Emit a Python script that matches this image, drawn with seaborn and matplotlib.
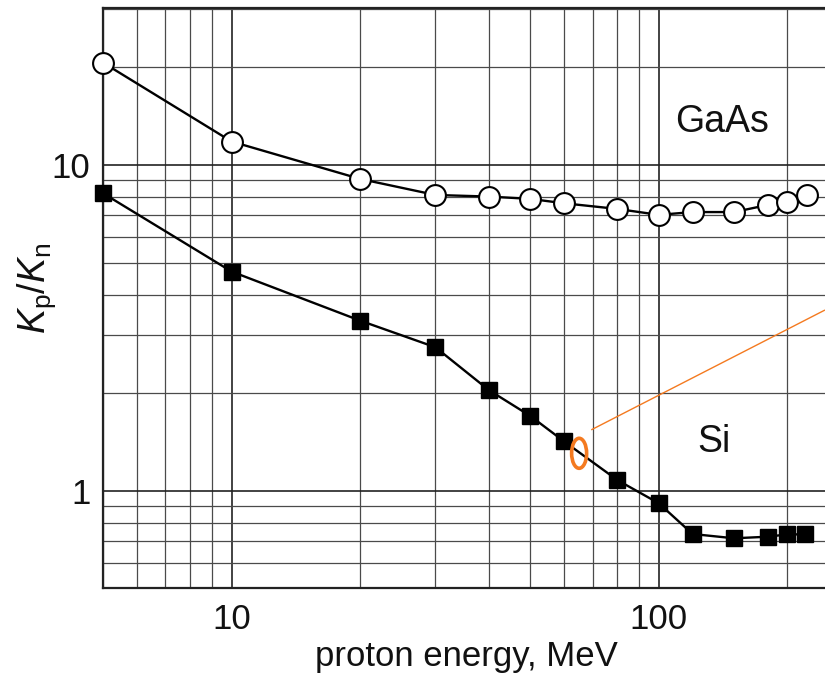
import matplotlib
matplotlib.use("Agg")
import matplotlib.pyplot as plt
import matplotlib.transforms as mtransforms
from matplotlib.patches import Ellipse
from matplotlib.ticker import LogLocator, FixedLocator, NullFormatter
import seaborn as sns
import pandas as pd

# ---- data ----
gaas_energy = [5, 10, 20, 30, 40, 50, 60, 80, 100, 120, 150, 180, 200, 222]
gaas_ratio = [20.6, 11.8, 9.06, 8.09, 8.0, 7.87, 7.63, 7.33, 7.03, 7.17, 7.17, 7.54, 7.72, 8.09]

si_energy = [5, 10, 20, 30, 40, 50, 60, 80, 100, 120, 150, 180, 200, 220]
si_ratio = [8.19, 4.71, 3.33, 2.76, 2.04, 1.70, 1.42, 1.08, 0.917, 0.738, 0.716, 0.724, 0.736, 0.736]

x_ticks = [10, 100]
x_tick_labels = ["10", "100"]
y_ticks = [1, 10]
y_tick_labels = ["1", "10"]

# annotation (orange ellipse + pointer line)
ell_center = (65.1, 1.305)
pointer_x = [69.5, 245]
pointer_y = [1.54, 3.59]

sns.set_theme(style="white")
plt.rcParams["font.family"] = ["Liberation Sans", "DejaVu Sans"]
plt.rcParams["mathtext.fontset"] = "custom"
plt.rcParams["mathtext.rm"] = "Liberation Sans"
plt.rcParams["mathtext.it"] = "Liberation Sans:italic"

fig = plt.figure(figsize=(8.25, 6.79), dpi=100)
ax = fig.add_axes([103 / 825, 1 - 588 / 679, 1 - 103 / 825, (588 - 8) / 679])

ax.set_xscale("log")
ax.set_yscale("log")
ax.set_xlim(5, 245)
ax.set_ylim(0.504, 30.3)

# grid
ax.xaxis.set_major_locator(FixedLocator(x_ticks))
ax.yaxis.set_major_locator(FixedLocator(y_ticks))
ax.xaxis.set_minor_locator(LogLocator(base=10, subs=range(2, 10)))
ax.yaxis.set_minor_locator(LogLocator(base=10, subs=range(2, 10)))
ax.xaxis.set_minor_formatter(NullFormatter())
ax.yaxis.set_minor_formatter(NullFormatter())
ax.grid(True, which="major", color="#222222", linewidth=1.2)
ax.grid(True, which="minor", color="#4a4a4a", linewidth=0.9)
ax.set_axisbelow(True)

gaas_df = pd.DataFrame({"energy": gaas_energy, "ratio": gaas_ratio})
si_df = pd.DataFrame({"energy": si_energy, "ratio": si_ratio})

sns.lineplot(data=gaas_df, x="energy", y="ratio", ax=ax, color="black",
             linewidth=1.7, marker="o", markersize=15,
             markerfacecolor="white", markeredgecolor="black",
             markeredgewidth=1.5, zorder=3, clip_on=False)
sns.lineplot(data=si_df, x="energy", y="ratio", ax=ax, color="black",
             linewidth=1.7, marker="s", markersize=11,
             markerfacecolor="black", markeredgecolor="black",
             markeredgewidth=1.0, zorder=3, clip_on=False)

ax.set_xticks(x_ticks)
ax.set_xticklabels(x_tick_labels)
ax.set_yticks(y_ticks)
ax.set_yticklabels(y_tick_labels)
ax.tick_params(axis="both", which="both", length=0, labelsize=25, colors="#111111")
ax.tick_params(axis="x", pad=11)
ax.tick_params(axis="y", pad=9)

ax.set_xlabel("proton energy, MeV", fontsize=25, color="#111111")
ax.set_ylabel(r"$K_\mathrm{p}/K_\mathrm{n}$", fontsize=27, color="#111111")
ax.xaxis.set_label_coords((466 - 103) / 722, (588 - 640) / 580)
ax.yaxis.set_label_coords((58 - 103) / 722, (588 - 288) / 580)

for side in ["left", "bottom", "top"]:
    ax.spines[side].set_color("#222222")
    ax.spines[side].set_linewidth(1.6)
ax.spines["right"].set_visible(False)

ax.text(141, 13.5, "GaAs", fontsize=27, ha="center", va="center", color="#111111")
ax.text(135, 1.41, "Si", fontsize=27, ha="center", va="center", color="#111111")

# orange annotation
ax.plot(pointer_x, pointer_y, color="#f47a20", linewidth=1.0, zorder=4, solid_capstyle="butt")
trans = fig.dpi_scale_trans + mtransforms.ScaledTranslation(ell_center[0], ell_center[1], ax.transData)
ell = Ellipse((0, 0), width=0.15, height=0.30, transform=trans, fill=False,
              edgecolor="#f47a20", linewidth=2.6, zorder=5)
ax.add_patch(ell)

fig.savefig("out.png", dpi=100)
